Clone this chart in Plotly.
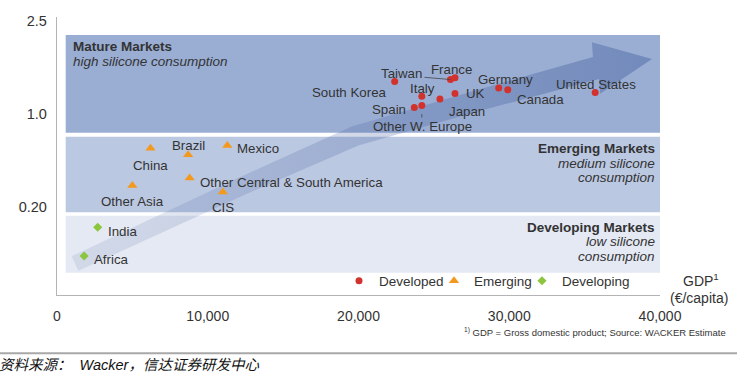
import plotly.graph_objects as go
import numpy as np

# ---------------- data ----------------
developed_names = ["South Korea", "Taiwan", "France", "Italy", "Japan", "UK", "Spain",
                   "Other W. Europe", "Germany", "Canada", "United States"]
developed_gdp = [22400, 26100, 26400, 24200, 25400, 26400, 23700, 24200, 29300, 29900, 35700]
developed_cons = [1.35, 1.37, 1.39, 1.19, 1.16, 1.22, 1.07, 1.09, 1.28, 1.26, 1.23]

emerging_names = ["China", "Brazil", "Mexico", "Other Asia", "Other Central & South America", "CIS"]
emerging_gdp = [6200, 8700, 11300, 5000, 8800, 11000]
emerging_cons = [0.63, 0.56, 0.66, 0.23, 0.31, 0.16]

developing_names = ["India", "Africa"]
developing_gdp = [2700, 1800]
developing_cons = [-0.22, -0.53]

x_tick_values = [0, 10000, 20000, 30000, 40000]
y_tick_positions = [0, 1, 2]
y_tick_labels = ["0.20", "1.0", "2.5"]

# ---------------- layout constants ----------------
W, H = 737, 379
ML, MR, MT, MB = 57, 77, 17, 84
PW, PH = W - ML - MR, H - MT - MB
X_MIN, X_MAX = 0, 40000
Y_MIN, Y_MAX = -0.949, 2.043
FONT = "Liberation Sans, Arial, sans-serif"
TXT = "#333333"


def px2x(px):
    return (px - ML) / PW * (X_MAX - X_MIN) + X_MIN


def py2y(py):
    return Y_MAX - (py - MT) / PH * (Y_MAX - Y_MIN)


def px2p(px):
    return (px - ML) / PW


def py2p(py):
    return (MT + PH - py) / PH


# label placement (pixel offsets from marker: anchor, dx, dy(down))
developed_lab = [("right", -6, 11), ("right", -26, -6), ("center", -3, -8), ("center", 1, -8),
                 ("center", 27, 12), ("left", 9, 0), ("right", -6, 2), ("center", 1, 21),
                 ("center", 7, -8), ("center", 33, 10), ("center", 1, -8)]
emerging_lab = [("center", 0, 17), ("center", 0, -9), ("left", 8, 3), ("center", 0, 16),
                ("left", 8, 4), ("center", 0, 16)]
developing_lab = [("left", 8, 4), ("left", 8, 3)]

fig = go.Figure()

# ---------------- background bands ----------------
bands = [(35, 132.7, "#9AAED3"), (136.7, 212.3, "#BBC8E2"), (215.7, 272.7, "#E4E9F3")]
for top, bot, col in bands:
    fig.add_shape(type="rect", xref="x", yref="y", x0=px2x(65.7), x1=X_MAX,
                  y0=py2y(bot), y1=py2y(top), fillcolor=col, line_width=0, layer="below")

# ---------------- growth arrow (decoration) ----------------
C = np.array([(75, 263.5), (240, 187), (355, 136), (480, 100), (596, 68)], float)
hw = np.array([8, 9, 10, 10.5, 11.5])
seg = np.diff(C, axis=0)
seg = seg / np.linalg.norm(seg, axis=1)[:, None]
dirs = np.vstack([seg[0], (seg[:-1] + seg[1:]) / 2, seg[-1]])
dirs = dirs / np.linalg.norm(dirs, axis=1)[:, None]
nrm = np.column_stack([dirs[:, 1], -dirs[:, 0]])  # up-left normal
upper = C + nrm * hw[:, None]
lower = C - nrm * hw[:, None]
tip = np.array([652, 59.0])
hd = (tip - C[-1]) / np.linalg.norm(tip - C[-1])
hn = np.array([hd[1], -hd[0]])
barb_u = C[-1] + hn * 26
barb_l = C[-1] - hn * 26
poly = np.vstack([upper, barb_u, tip, barb_l, lower[::-1], upper[:1]])
fig.add_trace(go.Scatter(
    x=[px2x(p) for p in poly[:, 0]], y=[py2y(p) for p in poly[:, 1]],
    mode="lines", line=dict(width=0), fill="toself",
    fillgradient=dict(type="horizontal",
                      colorscale=[[0, "rgba(85,110,165,0.13)"], [0.5, "rgba(75,100,160,0.25)"],
                                  [1, "rgba(60,90,155,0.42)"]]),
    hoverinfo="skip", showlegend=False))

# ---------------- series ----------------
fig.add_trace(go.Scatter(x=developed_gdp, y=developed_cons, mode="markers", name="Developed",
                         text=developed_names, legend="legend",
                         marker=dict(symbol="circle", size=7, color="#D2322D")))
fig.add_trace(go.Scatter(x=emerging_gdp, y=emerging_cons, mode="markers", name="Emerging",
                         text=emerging_names, legend="legend2",
                         marker=dict(symbol="triangle-up", size=9, color="#F39A1E")))
fig.add_trace(go.Scatter(x=developing_gdp, y=developing_cons, mode="markers", name="Developing",
                         text=developing_names, legend="legend3",
                         marker=dict(symbol="diamond", size=7, color="#8CC63F")))

# point labels
for names, xs, ys, labs in [(developed_names, developed_gdp, developed_cons, developed_lab),
                            (emerging_names, emerging_gdp, emerging_cons, emerging_lab),
                            (developing_names, developing_gdp, developing_cons, developing_lab)]:
    for n, x, y, (anc, dx, dy) in zip(names, xs, ys, labs):
        fig.add_annotation(x=x, y=y, xref="x", yref="y", text=n, showarrow=False,
                           xanchor=anc, yanchor="middle", xshift=dx, yshift=-dy,
                           font=dict(family=FONT, size=13.3, color=TXT))

# leader lines
ti = developed_names.index("Taiwan")
fig.add_shape(type="line", xref="x", yref="y", x0=px2x(424.5), y0=py2y(77.3),
              x1=developed_gdp[ti], y1=developed_cons[ti], line=dict(color="#444", width=0.8))
oi = developed_names.index("Other W. Europe")
fig.add_shape(type="line", xref="x", yref="y", x0=developed_gdp[oi], x1=developed_gdp[oi],
              y0=py2y(114), y1=py2y(117.5), line=dict(color="#444", width=0.8))


# ---------------- band titles ----------------
def ptext(text, px, py, anchor, size=13.5, bold=False, italic=False, color=TXT, family=FONT,
          yanchor="middle"):
    if bold:
        text = "<b>" + text + "</b>"
    if italic:
        text = "<i>" + text + "</i>"
    fig.add_annotation(x=px2p(px), y=py2p(py), xref="paper", yref="paper", text=text,
                       showarrow=False, xanchor=anchor, yanchor=yanchor, borderpad=0,
                       font=dict(family=family, size=size, color=color))


ptext("Mature Markets", 71.7, 46.7, "left", bold=True)
ptext("high silicone consumption", 71.7, 61.7, "left", italic=True)
ptext("Emerging Markets", 656, 148.3, "right", bold=True)
ptext("medium silicone", 656, 163.3, "right", italic=True)
ptext("consumption", 656, 177.3, "right", italic=True)
ptext("Developing Markets", 656, 227.3, "right", bold=True)
ptext("low silicone", 656, 241.7, "right", italic=True)
ptext("consumption", 656, 256.7, "right", italic=True)

# axis title / notes
ptext("GDP<sup>1</sup>", 701, 290, "center", size=14, yanchor="bottom")
ptext("(€/capita)", 699, 289, "center", size=14, yanchor="top")
ptext("<sup>1)</sup> GDP = Gross domestic product; Source: WACKER Estimate", 727, 331.7,
      "right", size=9.5)
ptext("<i>资料来源：  Wacker，信达证券研发中心</i>", -2, 364.5, "left", size=14.5, color="#111",
      family="Liberation Sans, Noto Sans CJK SC, sans-serif")

fig.add_shape(type="line", xref="paper", yref="paper", x0=px2p(0), x1=px2p(737),
              y0=py2p(353.3), y1=py2p(353.3), line=dict(color="#A8A8A8", width=2))

# ---------------- legends (one per series, placed individually) ----------------
leg_common = dict(orientation="h", xanchor="left", yanchor="middle", y=py2p(281),
                  bgcolor="rgba(0,0,0,0)", font=dict(family=FONT, size=13.5, color=TXT),
                  itemwidth=30, borderwidth=0)

fig.update_layout(
    width=W, height=H, margin=dict(l=ML, r=MR, t=MT, b=MB, pad=0),
    paper_bgcolor="white", plot_bgcolor="white",
    font=dict(family=FONT, color=TXT),
    showlegend=True,
    legend=dict(x=px2p(359 - 20), **leg_common),
    legend2=dict(x=px2p(454 - 20), **leg_common),
    legend3=dict(x=px2p(542 - 20), **leg_common),
    xaxis=dict(range=[X_MIN, X_MAX], tickvals=x_tick_values, tickformat=",d",
               showgrid=False, zeroline=False, showline=True, linecolor="#B4B4B4", linewidth=1.3,
               ticks="", ticklabelstandoff=8, tickfont=dict(family=FONT, size=14, color=TXT)),
    yaxis=dict(range=[Y_MIN, Y_MAX], tickvals=y_tick_positions, ticktext=y_tick_labels,
               showgrid=False, zeroline=False, showline=True, linecolor="#B4B4B4", linewidth=1.3,
               ticks="", ticklabelstandoff=6, tickfont=dict(family=FONT, size=14.5, color=TXT)),
    hovermode=False,
)

fig.write_html("out.html", config={"displayModeBar": False},
               post_script="document.body.style.margin='0px';document.body.style.overflow='hidden';")
